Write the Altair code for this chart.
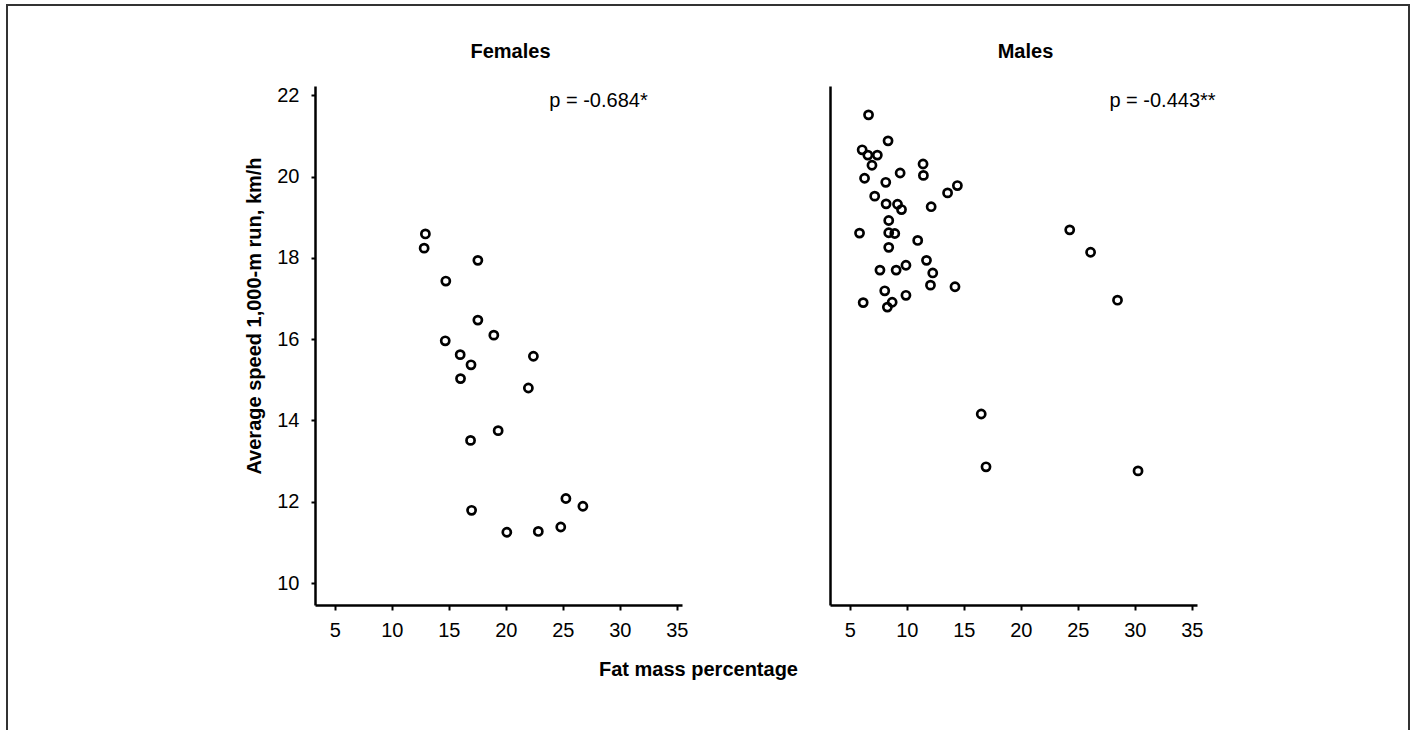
import altair as alt
import pandas as pd

FONT = "Liberation Sans"

# ---- data ----
females_fat = [12.95, 12.84, 17.55, 14.74, 17.55, 18.95, 14.69, 16.00, 22.42, 16.95,
               16.03, 21.98, 19.33, 16.91, 25.27, 26.76, 17.00, 24.82, 20.09, 22.85]
females_speed = [18.59, 18.24, 17.94, 17.43, 16.47, 16.10, 15.96, 15.62, 15.58, 15.37,
                 15.03, 14.80, 13.75, 13.51, 12.08, 11.89, 11.79, 11.38, 11.25, 11.27]

males_fat = [6.65, 8.36, 6.09, 6.59, 7.42, 6.95, 11.43, 11.46, 9.42, 6.30,
             8.16, 14.44, 13.58, 7.19, 8.19, 9.19, 9.54, 12.14, 8.42, 5.86,
             8.42, 8.95, 10.96, 8.42, 11.73, 9.93, 7.65, 9.07, 12.28, 12.08,
             14.23, 8.07, 9.93, 6.18, 8.72, 8.30, 24.29, 26.12, 28.48, 16.53,
             16.95, 30.28]
males_speed = [21.52, 20.88, 20.66, 20.53, 20.53, 20.28, 20.31, 20.03, 20.09, 19.96,
               19.86, 19.78, 19.60, 19.52, 19.33, 19.32, 19.19, 19.26, 18.92, 18.61,
               18.62, 18.60, 18.43, 18.26, 17.94, 17.82, 17.70, 17.70, 17.63, 17.33,
               17.29, 17.19, 17.08, 16.90, 16.91, 16.79, 18.69, 18.14, 16.96, 14.16,
               12.86, 12.76]

panel_titles = ["Females", "Males"]
notes = ["p = -0.684*", "p = -0.443**"]
x_ticks = [5, 10, 15, 20, 25, 30, 35]
y_ticks = [10, 12, 14, 16, 18, 20, 22]
x_title = "Fat mass percentage"
y_title = "Average speed 1,000-m run, km/h"

x_dom = [3.27, 35.45]
y_dom = [9.46, 22.23]
W, H = 367, 519


def panel(fat, speed, title, note, note_x, first):
    df = pd.DataFrame({"fat": fat, "speed": speed})
    common = dict(domainColor="black", domainWidth=2.5, tickColor="black", tickWidth=2,
                  labelFont=FONT, labelFontSize=20, labelColor="black", grid=False,
                  titleFont=FONT, titleFontSize=20, titleFontWeight="bold", titleColor="black")
    if first:
        xaxis = alt.Axis(values=x_ticks, tickSize=5, labelPadding=10, title=x_title,
                         titleX=383, titleY=64, titleAlign="center", titleBaseline="middle",
                         **common)
        yaxis = alt.Axis(values=y_ticks, tickSize=4, labelPadding=12, title=y_title,
                         titleX=-61, titleY=229.5, titleAngle=270, titleAlign="center",
                         titleBaseline="middle", **common)
    else:
        xaxis = alt.Axis(values=x_ticks, tickSize=5, labelPadding=10, title=None, **common)
        yaxis = alt.Axis(values=y_ticks, labels=False, ticks=False, title=None, **common)

    pts = alt.Chart(df).mark_point(shape="circle", filled=False, size=66, strokeWidth=2.7,
                                   color="black", opacity=1).encode(
        x=alt.X("fat:Q", scale=alt.Scale(domain=x_dom, nice=False, zero=False), axis=xaxis),
        y=alt.Y("speed:Q", scale=alt.Scale(domain=y_dom, nice=False, zero=False), axis=yaxis),
    )
    txt = alt.Chart(pd.DataFrame({"label": [note]})).mark_text(
        align="center", baseline="alphabetic", font=FONT, fontSize=20, color="black"
    ).encode(x=alt.value(note_x), y=alt.value(20.5), text="label:N")

    ttl = alt.Chart(pd.DataFrame({"label": [title]})).mark_text(
        align="center", baseline="alphabetic", font=FONT, fontSize=20, fontWeight="bold",
        color="black"
    ).encode(x=alt.value(W / 2 + 12), y=alt.value(-28), text="label:N")

    layers = [pts, txt, ttl]
    if first:
        fr = alt.Chart(pd.DataFrame({"k": [0]})).mark_rule(color="#333333", strokeWidth=2,
                                                             strokeCap="square")
        layers += [
            fr.encode(x=alt.value(-308), y=alt.value(-81), y2=alt.value(643)),
            fr.encode(x=alt.value(-308), x2=alt.value(1094), y=alt.value(-81)),
            fr.encode(x=alt.value(1094), y=alt.value(-81), y2=alt.value(643)),
        ]
    return alt.layer(*layers).properties(width=W, height=H)


left = panel(females_fat, females_speed, panel_titles[0], notes[0], 283.5, True)
right = panel(males_fat, males_speed, panel_titles[1], notes[1], 332.5, False)

chart = alt.hconcat(left, right, spacing=148, bounds="flush").properties(
    padding={"left": 5, "top": 3, "right": 0, "bottom": 0}
).configure_view(strokeWidth=0)

chart.save("out.html", embed_options={"renderer": "svg", "actions": False})
